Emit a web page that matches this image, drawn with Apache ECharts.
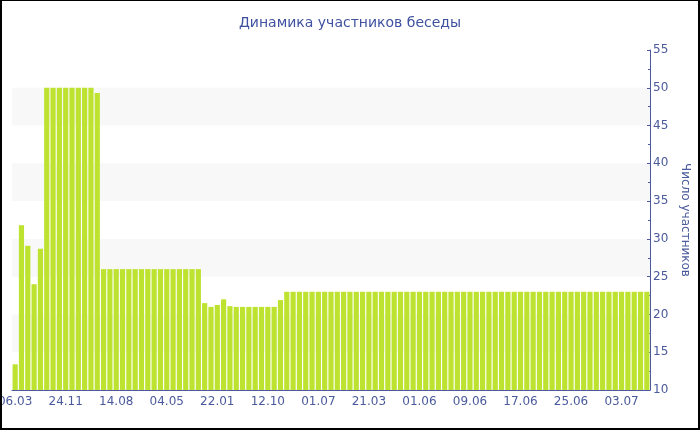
<!DOCTYPE html>
<html>
<head>
<meta charset="utf-8">
<script src="https://cdn.jsdelivr.net/npm/echarts@6/dist/echarts.min.js"></script>
<style>
html,body{margin:0;padding:0;background:#fff;}
#frame{width:700px;height:430px;box-sizing:border-box;border-style:solid;border-color:#000;border-width:1px 2px 2px 2px;position:relative;overflow:hidden;}
#chart{position:absolute;left:-2px;top:-1px;width:700px;height:430px;}
</style>
</head>
<body>
<div id="frame"><div id="chart"></div></div>
<script>
const title = 'Динамика участников беседы';
const yAxisName = 'Число участников';

const categories = [
  '06.03','08.04','11.05','13.06','15.07','17.08','19.09','22.10',
  '24.11','27.12','29.01','03.03','05.04','08.05','10.06','12.07',
  '14.08','16.09','19.10','21.11','24.12','26.01','28.02','02.04',
  '04.05','06.06','08.07','10.08','12.09','15.10','17.11','20.12',
  '22.01','24.02','29.03','01.05','02.06','05.07','07.08','09.09',
  '12.10','14.11','17.12','19.01','21.02','26.03','28.04','31.05',
  '01.07','03.08','05.09','08.10','10.11','13.12','14.01','16.02',
  '21.03','30.03','08.04','17.04','26.04','05.05','14.05','23.05',
  '01.06','02.06','03.06','04.06','05.06','06.06','07.06','08.06',
  '09.06','10.06','11.06','12.06','13.06','14.06','15.06','16.06',
  '17.06','18.06','19.06','20.06','21.06','22.06','23.06','24.06',
  '25.06','26.06','27.06','28.06','29.06','30.06','01.07','02.07',
  '03.07','04.07','05.07','06.07','07.07'
];

const participants = [
  13.4, 31.8, 29.1, 24.0, 28.7, 50, 50, 50,
  50, 50, 50, 50, 50, 49.3, 26, 26,
  26, 26, 26, 26, 26, 26, 26, 26,
  26, 26, 26, 26, 26, 26, 21.5, 21.0,
  21.25, 22.0, 21.1, 21.0, 21.0, 21.0, 21.0, 21.0,
  21.0, 21.0, 21.9, 23, 23, 23, 23, 23,
  23, 23, 23, 23, 23, 23, 23, 23,
  23, 23, 23, 23, 23, 23, 23, 23,
  23, 23, 23, 23, 23, 23, 23, 23,
  23, 23, 23, 23, 23, 23, 23, 23,
  23, 23, 23, 23, 23, 23, 23, 23,
  23, 23, 23, 23, 23, 23, 23, 23,
  23, 23, 23, 23, 23
];

const axisColor = '#4a5a9c';
const textColor = '#4a5a9c';
const font = 'DejaVu Sans, Verdana, sans-serif';

const chart = echarts.init(document.getElementById('chart'), null, {renderer: 'canvas'});
chart.setOption({
  animation: false,
  backgroundColor: '#fff',
  title: {
    text: title,
    left: 'center',
    top: 11,
    textStyle: {color: '#3f51a0', fontSize: 14, fontWeight: 'normal', fontFamily: font}
  },
  grid: {left: 12, right: 50, top: 50, bottom: 40, containLabel: false, outerBoundsMode: 'none'},
  xAxis: {
    type: 'category',
    data: categories,
    axisLine: {lineStyle: {color: axisColor, width: 1}},
    axisTick: {alignWithLabel: true, interval: 7, length: 4, lineStyle: {color: axisColor}},
    axisLabel: {interval: 7, color: textColor, fontSize: 12, fontFamily: font, margin: 6, hideOverlap: false},
    splitLine: {show: false}
  },
  yAxis: {
    type: 'value',
    position: 'right',
    min: 10,
    max: 55,
    interval: 5,
    name: yAxisName,
    nameLocation: 'middle',
    nameRotate: -90,
    nameGap: 28,
    nameTextStyle: {color: textColor, fontSize: 12, fontFamily: font},
    axisLine: {show: true, lineStyle: {color: axisColor}},
    axisTick: {show: true, inside: true, length: 3, lineStyle: {color: axisColor}},
    minorTick: {show: true, splitNumber: 2, length: 2, lineStyle: {color: axisColor}},
    axisLabel: {color: textColor, fontSize: 12, fontFamily: font, margin: 3},
    splitLine: {show: false},
    splitArea: {show: true, areaStyle: {color: ['rgba(255,255,255,0)', '#f8f8f8']}}
  },
  series: [{
    type: 'bar',
    data: participants,
    barCategoryGap: '18%',
    itemStyle: {color: '#bde22f'}
  }]
});
</script>
</body>
</html>
